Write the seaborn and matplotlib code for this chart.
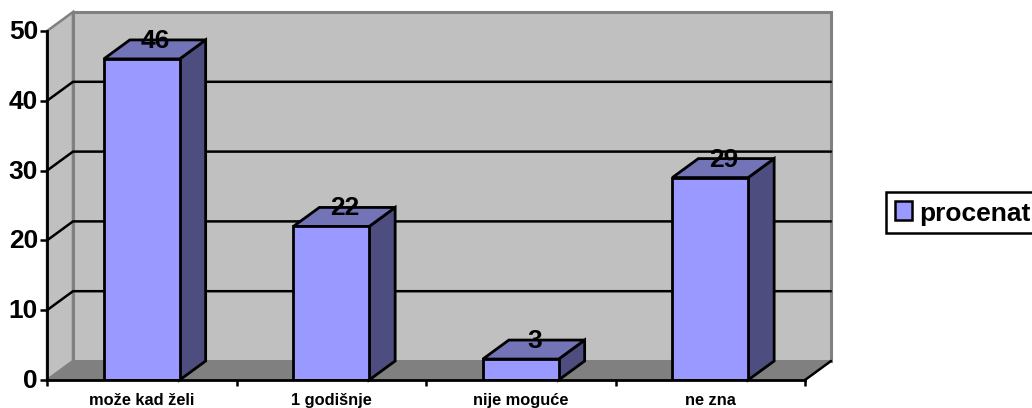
import pandas as pd
import numpy as np
import matplotlib
matplotlib.use('Agg')
import matplotlib.pyplot as plt
from matplotlib.patches import Polygon
from matplotlib.transforms import Affine2D, ScaledTranslation
import seaborn as sns

# Data
categories = ['može kad želi', '1 godišnje', 'nije moguće', 'ne zna']
procenat = [46, 22, 3, 29]
y_ticks = [0, 10, 20, 30, 40, 50]
series_name = 'procenat'

W, H = 1032, 408
DX, DY = 26, 19   # 3d depth in pixels

sns.set_theme(style='white')
plt.rcParams['font.family'] = ['Liberation Sans', 'DejaVu Sans']

df = pd.DataFrame({'kategorija': categories, series_name: procenat})

fig = plt.figure(figsize=(W / 100, H / 100), dpi=100, facecolor='white')
ax = fig.add_axes([47 / W, (H - 380) / H, 758 / W, 349 / H])
ax.patch.set_visible(False)
ax.set_zorder(2)

sns.barplot(data=df, x='kategorija', y=series_name, color='#9999ff', saturation=1,
            width=0.4, edgecolor='black', linewidth=2, label=series_name, ax=ax, zorder=5)
ax.set_xlim(-0.5, 3.5)
ax.set_ylim(0, 50)

# shifted transform = the back plane of the 3d box
front = ax.transData
back = ax.transData + Affine2D().translate(DX, DY)
to_fig = fig.transFigure.inverted()
depth = [front, front, back, back]


def box_poly(pts, trs, **kw):
    # polygon behind the axes, each point on its own plane
    px = [trs[i].transform(p) for i, p in enumerate(pts)]
    fig.add_artist(Polygon(to_fig.transform(px), closed=True,
                           transform=fig.transFigure, clip_on=False, **kw))


x0, x1 = ax.get_xlim()
# walls and floor
box_poly([(x0, 0), (x0, 50), (x0, 50), (x0, 0)], depth,
         facecolor='#c0c0c0', edgecolor='#808080', linewidth=1.8, zorder=0.5)
box_poly([(x0, 0), (x1, 0), (x1, 50), (x0, 50)], [back] * 4,
         facecolor='#c0c0c0', edgecolor='#808080', linewidth=2.2, zorder=0.6)
box_poly([(x0, 0), (x1, 0), (x1, 0), (x0, 0)], depth,
         facecolor='#808080', edgecolor='#808080', linewidth=1, zorder=0.7)

# grid lines on the left wall and back wall
for t in y_ticks[1:-1]:
    pts = to_fig.transform([front.transform((x0, t)), back.transform((x0, t)), back.transform((x1, t))])
    fig.add_artist(plt.Line2D(pts[:, 0], pts[:, 1], color='black', lw=1.8, zorder=0.8))

# right edge of the floor
pts = to_fig.transform([front.transform((x1, 0)), back.transform((x1, 0))])
fig.add_artist(plt.Line2D(pts[:, 0], pts[:, 1], color='black', lw=1.8, zorder=0.9))

# side and top of each bar, taken from the bars themselves
bars = list(ax.patches)
for bar in bars:
    l, r = bar.get_x(), bar.get_x() + bar.get_width()
    top = bar.get_height()
    faces = (
        ([(r, 0), (r, top), (r, top), (r, 0)], '#4d4d80'),
        ([(l, top), (r, top), (r, top), (l, top)], '#7373b8'),
    )
    for pts, color in faces:
        px = [depth[i].transform(p) for i, p in enumerate(pts)]
        ax.add_patch(Polygon(px, closed=True, transform=None, facecolor=color,
                             edgecolor='black', linewidth=2, joinstyle='miter',
                             clip_on=False, zorder=4))

# value labels, centred over the depth of the bar
for bar, val in zip(bars, procenat):
    cx = bar.get_x() + bar.get_width() / 2
    ax.annotate(str(val), (cx, val), xytext=(13.5 * 0.72, 13), textcoords='offset points',
                ha='center', va='center', fontsize=19, fontweight='bold',
                color='black', zorder=10, annotation_clip=False)

# axes
sns.despine(ax=ax, top=True, right=True)
for s in ('left', 'bottom'):
    ax.spines[s].set_color('black')
    ax.spines[s].set_linewidth(2)
    ax.spines[s].set_zorder(6)
ax.set_yticks(y_ticks)
ax.set_yticklabels([str(t) for t in y_ticks], fontsize=19, fontweight='bold', color='black')
ax.set_xticks(np.arange(-0.5, 4, 1))
ax.set_xticklabels([])
ax.tick_params(axis='y', left=True, length=5, width=1.8, color='black', pad=1.5)
ax.tick_params(axis='x', bottom=True, length=4.5, width=1.8, color='black')
up = ScaledTranslation(0, 1.5 / 100, fig.dpi_scale_trans)
for lab in ax.get_yticklabels():
    lab.set_transform(lab.get_transform() + up)
for i, name in enumerate(categories):
    ax.annotate(name, (i, 0), xytext=(0, -18.3), textcoords='offset points', ha='center', va='baseline',
                fontsize=11.8, fontweight='bold', color='black', annotation_clip=False)
ax.set_xlabel('')
ax.set_ylabel('')

# legend runs off the right edge like the original
leg = ax.legend(loc='center left', bbox_to_anchor=(886 / W, (H - 212.5) / H),
                bbox_transform=fig.transFigure,
                prop={'weight': 'bold', 'size': 19}, labelcolor='black',
                frameon=True, fancybox=False,
                edgecolor='black', facecolor='white', framealpha=1,
                borderaxespad=0, borderpad=0.34, handlelength=0.64, handleheight=0.7,
                handletextpad=0.27)
leg.get_frame().set_linewidth(1.8)
leg.get_patches()[0].set_linewidth(1.8)
leg.get_texts()[0].set_y(-2)

fig.savefig('out.png', dpi=100, facecolor='white')
